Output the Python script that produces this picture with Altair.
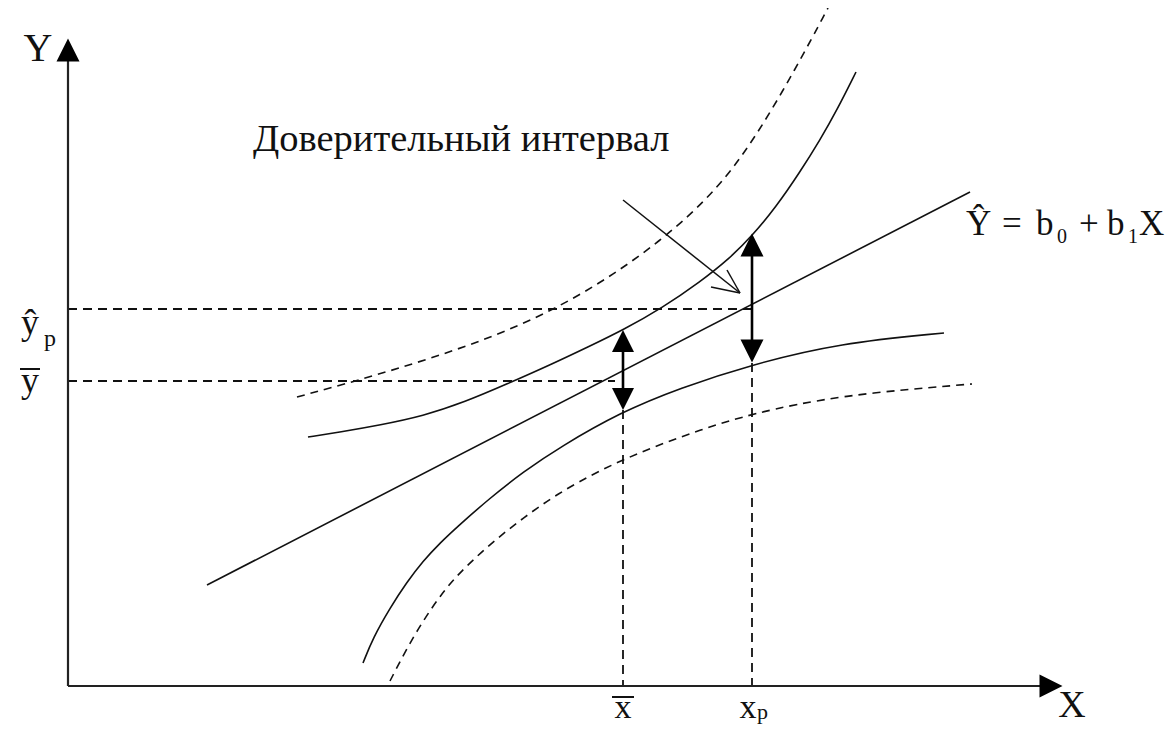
import altair as alt
import pandas as pd

# ---- diagram data (picture coordinates: x to the right, y downwards) ----
fit_x = [207, 970]
fit_y = [585, 192]

upper_ci_x = [308, 340, 380, 423, 465, 507, 550, 590, 623, 662, 700, 730, 752, 776, 800, 820, 837, 856]
upper_ci_y = [437, 432, 425, 416, 402, 384, 365, 346, 330, 308, 282, 258, 236, 207, 172, 140, 110, 72]

lower_ci_x = [363, 373, 390, 407, 423, 440, 457, 490, 523, 560, 621, 680, 750, 840, 944]
lower_ci_y = [663, 638, 608, 582, 561, 543, 527, 498, 472, 447, 412, 388, 365, 343, 333]

upper_pi_x = [297, 356, 433, 509, 585, 662, 719, 757, 795, 828]
upper_pi_y = [397, 381, 358, 331, 294, 241, 188, 135, 70, 8]

lower_pi_x = [390, 407, 423, 440, 457, 490, 523, 557, 600, 650, 700, 750, 840, 972]
lower_pi_y = [681, 648, 621, 596, 575, 544, 518, 494, 470, 448, 430, 414, 395, 384]

origin = (68, 686)
x_end = 1045
y_end = 55
x_mean, x_p = 623, 752
y_mean, y_p = 381, 309
ci_at_mean = (330, 410)
ci_at_p = (233, 363)
note_from = (623, 200)
note_to = (740, 293)
note_barb1 = (711, 287)
note_barb2 = (727, 270)

W, H = 1160, 716
xs = alt.Scale(domain=[8, 8 + W], nice=False, zero=False)
ys = alt.Scale(domain=[8, 8 + H], nice=False, zero=False, reverse=True)
X = lambda f="x": alt.X(f"{f}:Q", scale=xs, axis=None)
Y = lambda f="y": alt.Y(f"{f}:Q", scale=ys, axis=None)

def curve(name, xv, yv):
    return pd.DataFrame({"x": xv, "y": yv, "curve": name, "i": range(len(xv))})

fit_df = curve("fit", fit_x, fit_y)
solid_curves = pd.concat([
    curve("upper_ci", upper_ci_x, upper_ci_y),
    curve("lower_ci", lower_ci_x, lower_ci_y),
])
dashed_curves = pd.concat([
    curve("upper_pi", upper_pi_x, upper_pi_y),
    curve("lower_pi", lower_pi_x, lower_pi_y),
])

fit_layer = alt.Chart(fit_df).mark_line(color="#111", strokeWidth=1.6).encode(
    x=X(), y=Y(), order="i:Q")
solid_layer = alt.Chart(solid_curves).mark_line(
    color="#111", strokeWidth=1.6, interpolate="basis"
).encode(x=X(), y=Y(), detail="curve:N", order="i:Q")
dashed_layer = alt.Chart(dashed_curves).mark_line(
    color="#111", strokeWidth=1.6, interpolate="basis", strokeDash=[8, 6]
).encode(x=X(), y=Y(), detail="curve:N", order="i:Q")

# axes
axes_df = pd.DataFrame({
    "x": [origin[0], origin[0]], "y": [origin[1], origin[1]],
    "x2": [x_end, origin[0]], "y2": [origin[1], y_end],
})
axes_layer = alt.Chart(axes_df).mark_rule(color="#222", strokeWidth=2.2).encode(
    x=X(), y=Y(), x2="x2:Q", y2="y2:Q")

# double-arrow shafts and annotation arrow
shafts_df = pd.DataFrame({
    "x": [x_mean, x_p], "y": [ci_at_mean[0] + 12, ci_at_p[0] + 12],
    "x2": [x_mean, x_p], "y2": [ci_at_mean[1] - 12, ci_at_p[1] - 12],
})
shafts_layer = alt.Chart(shafts_df).mark_rule(color="#000", strokeWidth=2.6).encode(
    x=X(), y=Y(), x2="x2:Q", y2="y2:Q")

note_df = pd.DataFrame({
    "x": [note_from[0], note_to[0], note_to[0]],
    "y": [note_from[1], note_to[1], note_to[1]],
    "x2": [note_to[0], note_barb1[0], note_barb2[0]],
    "y2": [note_to[1], note_barb1[1], note_barb2[1]],
})
note_layer = alt.Chart(note_df).mark_rule(color="#111", strokeWidth=1.5).encode(
    x=X(), y=Y(), x2="x2:Q", y2="y2:Q")

# dashed guide lines
guides_df = pd.DataFrame({
    "x": [origin[0], origin[0], x_mean, x_p],
    "y": [y_p, y_mean, ci_at_mean[1], ci_at_p[1]],
    "x2": [x_p, x_mean - 8, x_mean, x_p],
    "y2": [y_p, y_mean, origin[1], origin[1]],
})
guides_layer = alt.Chart(guides_df).mark_rule(
    color="#111", strokeWidth=1.8, strokeDash=[9, 6]).encode(
    x=X(), y=Y(), x2="x2:Q", y2="y2:Q")

# overbars for x-bar and y-bar
bars_df = pd.DataFrame({
    "x": [20, 612], "y": [369, 697], "x2": [40, 634], "y2": [369, 697],
})
bars_layer = alt.Chart(bars_df).mark_rule(color="#111", strokeWidth=2).encode(
    x=X(), y=Y(), x2="x2:Q", y2="y2:Q")

# arrow heads
up_path = "M0,-1L-1,1L1,1Z"
down_path = "M0,1L-1,-1L1,-1Z"
right_path = "M1,0L-1,-1L-1,1Z"
heads = [
    (origin[0], 50, up_path, 530),
    (1051, origin[1], right_path, 530),
    (x_mean, ci_at_mean[0] + 11, up_path, 484),
    (x_mean, ci_at_mean[1] - 11, down_path, 484),
    (x_p, ci_at_p[0] + 12, up_path, 529),
    (x_p, ci_at_p[1] - 12, down_path, 529),
]
head_layers = [
    alt.Chart(pd.DataFrame({"x": [hx], "y": [hy]})).mark_point(
        shape=p, filled=True, color="#000", opacity=1, size=s, strokeWidth=0
    ).encode(x=X(), y=Y())
    for hx, hy, p, s in heads
]

# text
FONT = "Liberation Serif"
center_text = pd.DataFrame({
    "x": [38, 1072, 30, 30, 623, 748],
    "y": [61, 717, 334, 392, 718, 718],
    "t": ["Y", "X", "ŷ", "y", "x", "x"],
    "s": [40, 38, 36, 36, 34, 34],
})
left_text = pd.DataFrame({
    "x": [966, 1002, 1036, 1079, 1107, 1139, 44, 757, 1057, 1128],
    "y": [235, 235, 235, 235, 235, 235, 346, 719, 243, 243],
    "t": ["Ŷ", "=", "b", "+", "b", "X", "p", "p", "0", "1"],
    "s": [35, 35, 35, 35, 35, 35, 24, 22, 20, 20],
})
title_text = pd.DataFrame({"x": [253], "y": [151], "t": ["Доверительный интервал"]})

center_layer = alt.Chart(center_text).mark_text(
    font=FONT, align="center", baseline="alphabetic", color="#111"
).encode(x=X(), y=Y(), text="t:N", size=alt.Size("s:Q", scale=None))
left_layer = alt.Chart(left_text).mark_text(
    font=FONT, align="left", baseline="alphabetic", color="#111"
).encode(x=X(), y=Y(), text="t:N", size=alt.Size("s:Q", scale=None))
title_layer = alt.Chart(title_text).mark_text(
    font=FONT, align="left", baseline="alphabetic", color="#111", fontSize=38.5
).encode(x=X(), y=Y(), text="t:N")

chart = alt.layer(
    dashed_layer, fit_layer, solid_layer, guides_layer, axes_layer, shafts_layer, note_layer,
    bars_layer, *head_layers, center_layer, left_layer, title_layer
).properties(
    width=W, height=H, padding=0,
    autosize=alt.AutoSizeParams(type="none"), background="white"
).configure_view(stroke=None)

chart.save("out.html", embed_options={"renderer": "svg", "actions": False})
